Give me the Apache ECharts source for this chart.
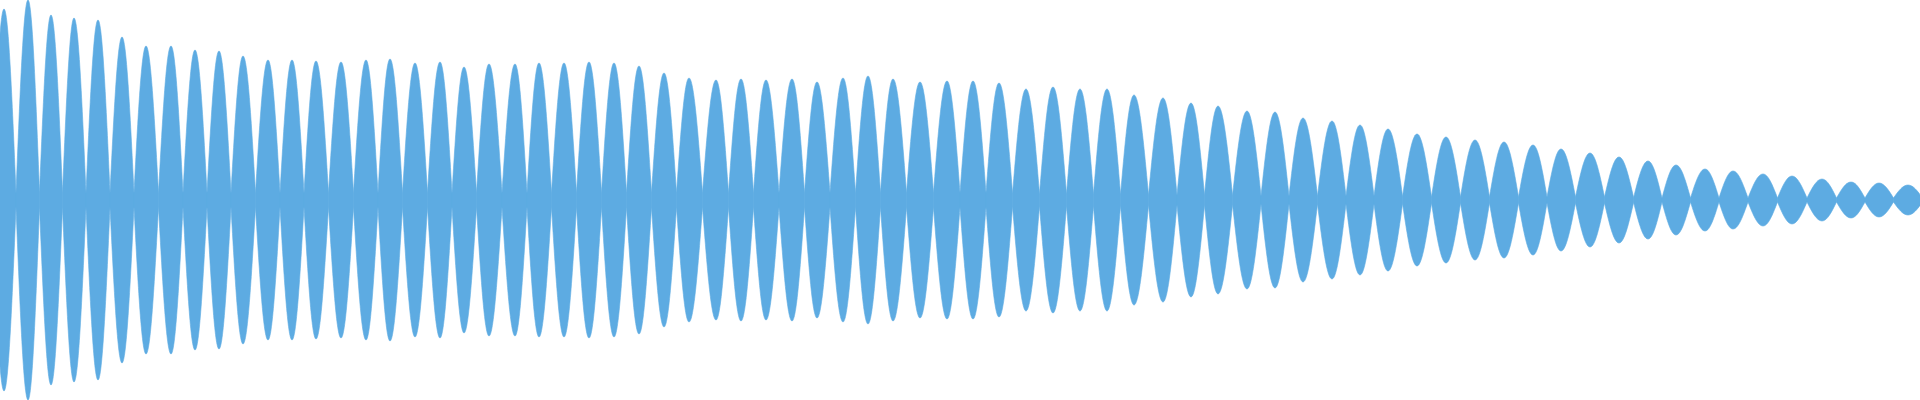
<!DOCTYPE html>
<html>
<head>
<meta charset="utf-8">
<script src="https://cdn.jsdelivr.net/npm/echarts@6/dist/echarts.min.js"></script>
<style>
  html, body { margin: 0; padding: 0; background: #fff; }
  #main { width: 1920px; height: 400px; }
</style>
</head>
<body>
<div id="main"></div>
<script type="text/javascript">
// peak position of each lobe (sample index)
var peakX = [
  4, 28, 51, 74, 98, 122, 146, 171, 195, 219, 243, 268, 292, 316, 341, 366, 390, 415, 440, 464,
  489, 515, 539, 564, 589, 614, 639, 664, 689, 716, 741, 766, 792, 817, 843, 868, 893, 920, 947,
  973, 999, 1026, 1053, 1080, 1107, 1134, 1163, 1191, 1218, 1247, 1275, 1303, 1332, 1360, 1388, 1417,
  1446, 1475, 1504, 1533, 1561, 1590, 1619, 1648, 1676, 1705, 1733, 1763, 1792, 1822, 1851, 1879, 1908
];
// peak amplitude of each lobe
var peakAmp = [
  191, 200, 185, 182, 180, 163, 154, 154, 150, 149, 144, 140, 140, 139, 138, 140, 141, 137, 138, 133,
  136, 136, 137, 137, 138, 137, 134, 127, 122, 120, 121, 120, 121, 118, 122, 124, 121, 118, 119,
  119, 117, 111, 113, 111, 111, 105, 102, 97, 94, 89, 88, 82, 79, 75, 71, 66,
  63, 60, 58, 55, 51, 47, 43, 39, 35, 31, 29, 26, 24, 21, 18, 17, 15
];
// amplitude left between lobes (the thin band at the nodes)
var nodeFloor = [
  7, 7, 7, 7, 7, 7, 7, 7, 7, 7, 7, 7, 7, 7, 7, 7, 7, 7, 7, 7,
  7, 7, 7, 7, 7, 7, 7, 7, 7, 7, 7, 7, 7, 7, 7, 7, 7, 7, 7,
  7, 7, 6, 6, 6, 6, 5, 5, 5, 5, 4, 4, 4, 4, 4, 4, 3,
  3, 3, 3, 3, 3, 3, 3, 2, 2, 2, 2, 2, 2, 2, 2, 2, 2
];

var lobes = [];
for (var i = 0; i < peakX.length; i++) {
  var prev = i > 0 ? peakX[i - 1] : peakX[i] - (peakX[i + 1] - peakX[i]);
  var next = i < peakX.length - 1 ? peakX[i + 1] : peakX[i] + (peakX[i] - peakX[i - 1]);
  lobes.push([(prev + peakX[i]) / 2, peakX[i], (peakX[i] + next) / 2, peakAmp[i], nodeFloor[i]]);
}

// one lens shaped lobe, mirrored round the centre line
function renderLobe(params, api) {
  var x0 = api.value(0), xm = api.value(1), x1 = api.value(2);
  var a = api.value(3), f = api.value(4);
  function half(sign) {
    var ya = sign * a, yf = sign * f, y1 = sign * (f + 0.5251 * (a - f));
    var p0 = api.coord([x0, yf]);
    var c1 = api.coord([x0 + 0.3343 * (xm - x0), y1]);
    var c2 = api.coord([x0 + 0.6398 * (xm - x0), ya]);
    var pm = api.coord([xm, ya]);
    var c3 = api.coord([x1 - 0.6398 * (x1 - xm), ya]);
    var c4 = api.coord([x1 - 0.3343 * (x1 - xm), y1]);
    var p1 = api.coord([x1, yf]);
    return { p0: p0, c1: c1, c2: c2, pm: pm, c3: c3, c4: c4, p1: p1 };
  }
  var t = half(1), b = half(-1);
  var d = 'M' + t.p0 + 'C' + t.c1 + ' ' + t.c2 + ' ' + t.pm +
    'C' + t.c3 + ' ' + t.c4 + ' ' + t.p1 +
    'L' + b.p1 + 'C' + b.c4 + ' ' + b.c3 + ' ' + b.pm +
    'C' + b.c2 + ' ' + b.c1 + ' ' + b.p0 + 'Z';
  return {
    type: 'path',
    shape: { pathData: d },
    style: { fill: '#5dabe2', stroke: '#5dabe2', lineWidth: 0.6 }
  };
}

var chart = echarts.init(document.getElementById('main'));
chart.setOption({
  animation: false,
  grid: { left: 0, right: 0, top: 0, bottom: 0 },
  xAxis: { type: 'value', min: 0, max: 1920, show: false },
  yAxis: { type: 'value', min: -200, max: 200, show: false },
  series: [{
    type: 'custom',
    clip: true,
    renderItem: renderLobe,
    data: lobes
  }]
});
</script>
</body>
</html>
